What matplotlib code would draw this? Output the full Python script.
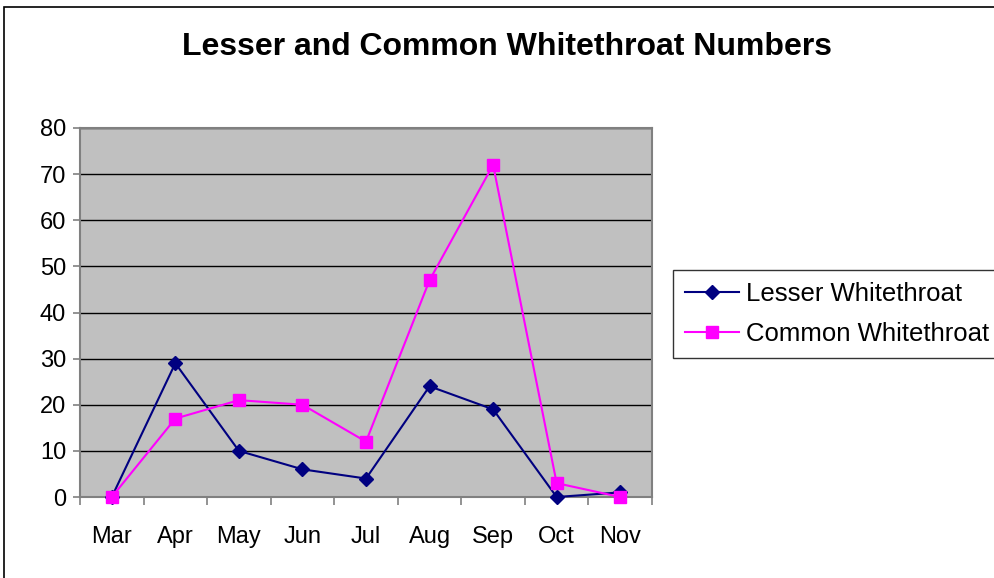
import matplotlib
matplotlib.use("Agg")
import matplotlib.pyplot as plt
from matplotlib.patches import Rectangle

plt.rcParams['font.family'] = ['Liberation Sans', 'DejaVu Sans']

months = ["Mar", "Apr", "May", "Jun", "Jul", "Aug", "Sep", "Oct", "Nov"]
lesser = [0, 29, 10, 6, 4, 24, 19, 0, 1]
common = [0, 17, 21, 20, 12, 47, 72, 3, 0]

fig = plt.figure(figsize=(9.94, 5.78), dpi=100)
W, H = 994, 578

# chart border (only left/top visible, rest runs off the picture)
fig.patches.append(Rectangle((4 / W, -0.1), 1.2, (578 - 7) / H + 0.1,
                             transform=fig.transFigure, fill=False,
                             edgecolor="black", linewidth=1.2))

ax = fig.add_axes([80 / W, 1 - 497 / H, 572 / W, 369 / H])
ax.set_facecolor("#C0C0C0")

x = list(range(len(months)))
ax.plot(x, lesser, color="#000080", marker="D", markersize=7.5, linewidth=1.5,
        label="Lesser Whitethroat", clip_on=False, zorder=3)
ax.plot(x, common, color="#FF00FF", marker="s", markersize=9, linewidth=1.5,
        label="Common Whitethroat", clip_on=False, zorder=3)

ax.set_xlim(-0.5, 8.5)
ax.set_ylim(0, 80)
ax.set_yticks(range(0, 81, 10))
ax.set_xticks([i - 0.5 for i in range(10)], minor=False)
ax.set_xticklabels([])
ax.set_xticks(x, minor=True)
ax.set_xticklabels(months, minor=True)
ax.tick_params(axis="x", which="major", length=6, direction="out", color="#808080", width=1.2)
ax.tick_params(axis="x", which="minor", length=0, pad=21, labelsize=17)
ax.tick_params(axis="y", length=5, direction="out", color="#808080", width=1.2, labelsize=17, pad=5)
ax.grid(axis="y", color="black", linewidth=1)
ax.set_axisbelow(True)
for s in ax.spines.values():
    s.set_color("#808080")
    s.set_linewidth(1.5)

fig.text(507 / W, 1 - 47 / H, "Lesser and Common Whitethroat Numbers",
         ha="center", va="center", fontsize=23, fontweight="bold")

leg = fig.legend(loc="upper left", bbox_to_anchor=(673 / W, 1 - 270 / H),
                 fontsize=18.5, frameon=True, fancybox=False, edgecolor="black",
                 borderpad=0.45, labelspacing=0.65, handlelength=2.1,
                 handletextpad=0.3, borderaxespad=0)
leg.get_frame().set_linewidth(1)

fig.savefig("out.png", dpi=100)
